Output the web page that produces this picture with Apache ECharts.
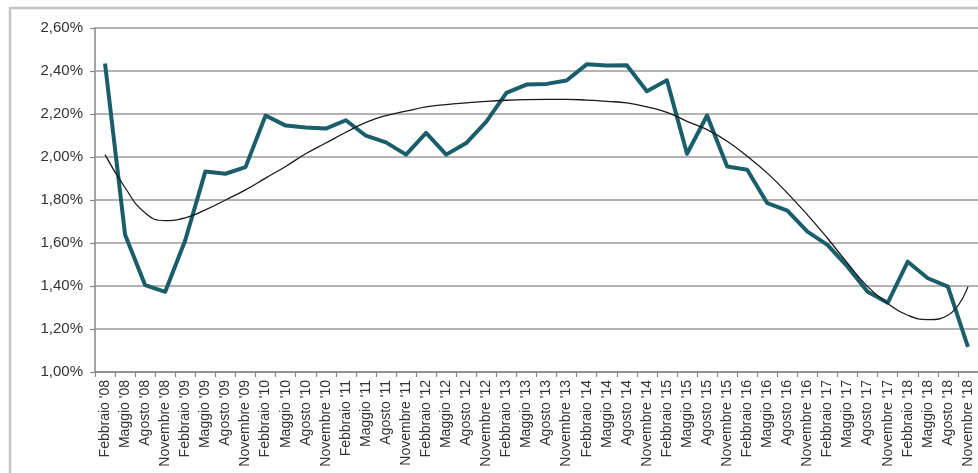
<!DOCTYPE html>
<html>
<head>
<meta charset="utf-8">
<script src="https://cdn.jsdelivr.net/npm/echarts@6/dist/echarts.min.js"></script>
<style>
html,body{margin:0;padding:0;background:#fff;}
#chart{width:978px;height:473px;}
</style>
</head>
<body>
<div id="chart"></div>
<script>
const categories = [
  "Febbraio '08","Maggio '08","Agosto '08","Novembre '08",
  "Febbraio '09","Maggio '09","Agosto '09","Novembre '09",
  "Febbraio '10","Maggio '10","Agosto '10","Novembre '10",
  "Febbraio '11","Maggio '11","Agosto '11","Novembre '11",
  "Febbraio '12","Maggio '12","Agosto '12","Novembre '12",
  "Febbraio '13","Maggio '13","Agosto '13","Novembre '13",
  "Febbraio '14","Maggio '14","Agosto '14","Novembre '14",
  "Febbraio '15","Maggio '15","Agosto '15","Novembre '15",
  "Febbraio '16","Maggio '16","Agosto '16","Novembre '16",
  "Febbraio '17","Maggio '17","Agosto '17","Novembre '17",
  "Febbraio '18","Maggio '18","Agosto '18","Novembre '18"
];
const rateValues = [
  2.435, 1.638, 1.404, 1.373,
  1.614, 1.933, 1.922, 1.953,
  2.193, 2.146, 2.137, 2.132,
  2.171, 2.099, 2.068, 2.011,
  2.112, 2.011, 2.065, 2.165,
  2.298, 2.337, 2.340, 2.356,
  2.431, 2.426, 2.427, 2.306,
  2.357, 2.015, 2.193, 1.956,
  1.941, 1.785, 1.751, 1.653,
  1.591, 1.490, 1.373, 1.322,
  1.513, 1.436, 1.397, 1.117
];
const trendValues = [
  2.011, 1.857, 1.740, 1.704,
  1.717, 1.754, 1.800, 1.847,
  1.902, 1.956, 2.015, 2.065,
  2.115, 2.161, 2.193, 2.213,
  2.233, 2.244, 2.252, 2.259,
  2.264, 2.267, 2.268, 2.268,
  2.265, 2.259, 2.252, 2.233,
  2.208, 2.166, 2.127, 2.073,
  2.003, 1.925, 1.832, 1.731,
  1.622, 1.506, 1.397, 1.319,
  1.264, 1.244, 1.264, 1.397
];
const yMin = 1.0, yMax = 2.6, yStep = 0.2;

const chart = echarts.init(document.getElementById('chart'));
chart.setOption({
  animation: false,
  backgroundColor: '#ffffff',
  graphic: [{
    type: 'rect',
    shape: { x: 10, y: 8, width: 1000, height: 500 },
    style: { fill: 'none', stroke: '#c4c4c4', lineWidth: 2.5 },
    silent: true, z: -1
  }],
  grid: { left: 95, top: 28, right: -5, bottom: 101 },
  xAxis: {
    type: 'category',
    data: categories,
    boundaryGap: true,
    axisLine: { show: true, lineStyle: { color: '#888', width: 1.5 } },
    axisTick: { show: true, length: 5, lineStyle: { color: '#888', width: 1.2 } },
    axisLabel: {
      interval: 0, rotate: 90, margin: 8,
      fontFamily: 'Liberation Sans, Arial, sans-serif', fontSize: 14, color: '#333'
    },
    splitLine: { show: false }
  },
  yAxis: {
    type: 'value',
    min: yMin, max: yMax, interval: yStep,
    axisLine: { show: true, lineStyle: { color: '#888', width: 1.5 } },
    axisTick: { show: true, length: 5, lineStyle: { color: '#888', width: 1.2 } },
    axisLabel: {
      margin: 12,
      fontFamily: 'Liberation Sans, Arial, sans-serif', fontSize: 15, color: '#333',
      formatter: v => v.toFixed(2).replace('.', ',') + '%'
    },
    splitLine: { show: true, lineStyle: { color: '#9a9a9a', width: 1.5 } }
  },
  series: [
    {
      name: 'Tasso', type: 'line', data: rateValues,
      symbol: 'none',
      lineStyle: { color: '#1b5e6b', width: 4, join: 'round' },
      z: 3
    },
    {
      name: 'Tendenza', type: 'line', data: trendValues,
      symbol: 'none', smooth: true,
      lineStyle: { color: '#1a1a1a', width: 1.3 },
      z: 4
    }
  ]
});
</script>
</body>
</html>
